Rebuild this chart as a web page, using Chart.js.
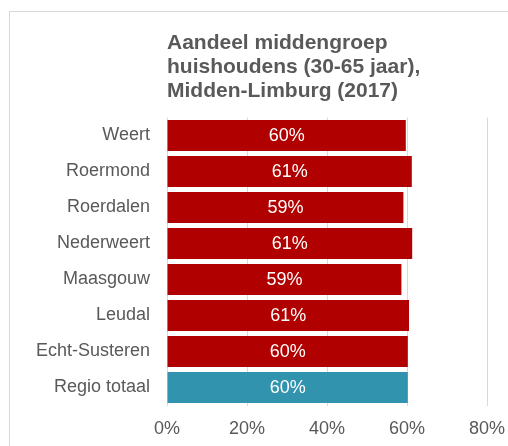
<!DOCTYPE html>
<html>
<head>
<meta charset="utf-8">
<script src="https://cdn.jsdelivr.net/npm/chart.js@4"></script>
<style>
  body { margin: 0; background: #fff; }
  #wrap { position: relative; width: 508px; height: 446px; overflow: hidden; }
  #frame { position: absolute; left: 9px; top: 11px; width: 600px; height: 500px; border: 1px solid #d9d9d9; }
  canvas { position: absolute; left: 0; top: 0; }
</style>
</head>
<body>
<div id="wrap">
  <div id="frame"></div>
  <canvas id="chart" width="508" height="446"></canvas>
</div>
<script>
const gemeenten = ['Weert', 'Roermond', 'Roerdalen', 'Nederweert', 'Maasgouw', 'Leudal', 'Echt-Susteren', 'Regio totaal'];
const aandeel = [59.7, 61.2, 59.1, 61.3, 58.6, 60.5, 60.2, 60.2];
const xTicks = [0, 20, 40, 60, 80];
const titel = ['Aandeel middengroep', 'huishoudens (30-65 jaar),', 'Midden-Limburg (2017)'];

const kleuren = gemeenten.map(g => g === 'Regio totaal' ? '#3193ad' : '#b00000');
const lettertype = '"Liberation Sans", Arial, sans-serif';

// labels in het midden van elke balk
const barLabels = {
    id: 'barLabels',
    afterDatasetsDraw(chart) {
        const ctx = chart.ctx;
        const meta = chart.getDatasetMeta(0);
        ctx.save();
        ctx.fillStyle = '#ffffff';
        ctx.font = '18px ' + lettertype;
        ctx.textAlign = 'center';
        ctx.textBaseline = 'middle';
        meta.data.forEach((bar, i) => {
            const mid = (bar.x + bar.base) / 2;
            ctx.fillText(Math.round(aandeel[i]) + '%', mid, bar.y + 1);
        });
        ctx.restore();
    }
};

new Chart(document.getElementById('chart'), {
    type: 'bar',
    data: {
        labels: gemeenten,
        datasets: [{
            data: aandeel,
            backgroundColor: kleuren,
            barPercentage: 0.86,
            categoryPercentage: 1
        }]
    },
    options: {
        indexAxis: 'y',
        responsive: false,
        animation: false,
        layout: { padding: { left: 10, right: 21, top: 0, bottom: 8 } },
        plugins: {
            legend: { display: false },
            tooltip: { enabled: false },
            title: {
                display: true,
                text: titel,
                align: 'start',
                fullSize: false,
                color: '#595959',
                font: { family: lettertype, size: 21, weight: 'bold', lineHeight: 24 / 21 },
                padding: { top: 31, bottom: 14.5 }
            }
        },
        scales: {
            x: {
                min: 0,
                max: 80,
                afterBuildTicks: s => { s.ticks = xTicks.map(v => ({ value: v })); },
                afterFit: s => { s.height = 32.5; s.paddingLeft = 0; s.paddingRight = 0; },
                grid: { color: '#d9d9d9', lineWidth: 1, drawTicks: false },
                border: { display: false },
                ticks: {
                    color: '#595959',
                    padding: 13,
                    font: { family: lettertype, size: 18 },
                    callback: v => v + '%'
                }
            },
            y: {
                afterFit: s => { s.width = 157; },
                grid: { display: false, drawTicks: false },
                border: { display: false },
                ticks: {
                    color: '#595959',
                    padding: 17,
                    font: { family: lettertype, size: 18 }
                }
            }
        }
    },
    plugins: [barLabels]
});
</script>
</body>
</html>
